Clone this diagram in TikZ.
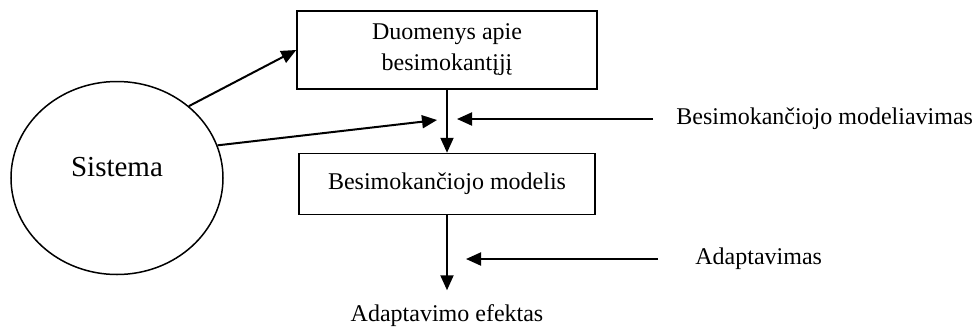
\documentclass[tikz,border=0pt]{standalone}
\usepackage{fontspec}
\setmainfont{Liberation Serif}
\usetikzlibrary{arrows.meta, positioning, shapes.geometric}

\begin{document}
\begin{tikzpicture}[
x=0.5pt, y=-0.5pt,
font=\fontsize{12}{15.5}\selectfont,
box/.style={draw,
rectangle,
line width=0.75pt,
minimum width=150pt,
align=center},
arrow/.style={-{Triangle[length=7.5pt, width=6.5pt]}, line width=1pt}
]
\useasboundingbox (0,0) rectangle (974,327);

\node[draw, ellipse, line width=0.75pt, minimum width=106pt, minimum height=96.5pt, inner sep=0pt, text depth=11pt, font=\fontsize{14.5}{17}\selectfont] (sistema) at (117,178) {Sistema};
\node[box, minimum height=39pt] (duomenys) at (447,50) {Duomenys apie\\besimokantįjį};
\node[box, below=31.5pt of duomenys, minimum width=148pt, minimum height=30.5pt] (modelis) {Besimokančiojo modelis};
\node[below=37.5pt of modelis, inner ysep=7pt] (efektas) {Adaptavimo efektas};

\coordinate (inL) at (437,120);
\coordinate (inR) at (457,119);
\coordinate (aR) at (466,259);
\node[anchor=west, inner xsep=11.5pt] (modeliavimas) at (653,119) {Besimokančiojo modeliavimas};
\node[anchor=west, inner xsep=18.5pt] (adaptavimas) at (658,259) {Adaptavimas};

\draw[arrow] (sistema.45) -- (duomenys.west);
\draw[arrow] (sistema.18) -- (inL);
\draw[arrow] (duomenys) -- (modelis);
\draw[arrow] (modeliavimas) -- (inR);
\draw[arrow] (modelis) -- (efektas);
\draw[arrow] (adaptavimas) -- (aR);

\end{tikzpicture}
\end{document}
